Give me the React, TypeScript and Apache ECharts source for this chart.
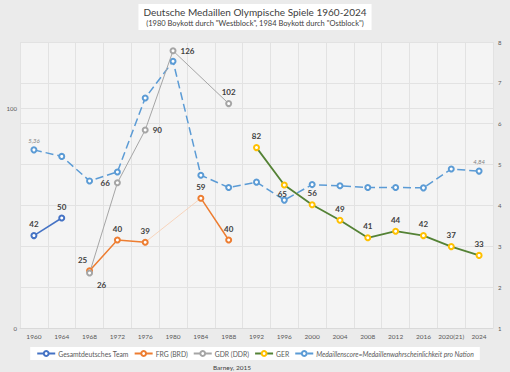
import React, { useEffect, useRef } from 'react';
import * as echarts from 'echarts';

const years = ['1960', '1964', '1968', '1972', '1976', '1980', '1984', '1988', '1992', '1996', '2000', '2004', '2008', '2012', '2016', '2020(21)', '2024'];
const gesamt = [42, 50, null, null, null, null, null, null, null, null, null, null, null, null, null, null, null];
const frg = [null, null, 26, 40, 39, null, 59, 40, null, null, null, null, null, null, null, null, null];
const frgBoycottLink = [null, null, null, null, 39, null, 59, null, null, null, null, null, null, null, null, null, null];
const gdr = [null, null, 25, 66, 90, 126, null, 102, null, null, null, null, null, null, null, null, null];
const ger = [null, null, null, null, null, null, null, null, 82, 65, 56, 49, 41, 44, 42, 37, 33];
const score = [5.36, 5.2, 4.6, 4.82, 6.63, 7.53, 4.74, 4.44, 4.57, 4.13, 4.51, 4.48, 4.44, 4.44, 4.43, 4.89, 4.84];
const scoreLabelled = ['1960', '2024'];
const seriesNames = ['Gesamtdeutsches Team', 'FRG (BRD)', 'GDR (DDR)', 'GER', 'Medaillenscore=Medaillenwahrscheinlichkeit pro Nation'];

const FONT = 'Lato, "Open Sans", sans-serif';

const labelStyle = { show: true, fontSize: 8, fontWeight: 'bold', color: '#404040', fontFamily: FONT, distance: 4 };

function build(values: (number | null)[], special: Record<number, any> = {}) {
  return values.map((v, i) => {
    if (v == null) return null;
    const item: any = { value: v };
    if (special[i]) item.label = special[i];
    return item;
  });
}

export default function App() {
  const ref = useRef<HTMLDivElement>(null);
  useEffect(() => {
    document.body.style.margin = '0';
    const chart = echarts.init(ref.current!, null, { renderer: 'svg' });
    const option: any = {
      animation: false,
      backgroundColor: '#ebebeb',
      textStyle: { fontFamily: FONT },
      title: {
        text: 'Deutsche Medaillen Olympische Spiele 1960-2024',
        subtext: '(1980 Boykott durch "Westblock", 1984 Boykott durch "Ostblock")',
        left: 'center',
        top: 4,
        backgroundColor: '#ffffff',
        padding: [3, 5, 3, 5],
        itemGap: 2,
        textStyle: { fontSize: 10, color: '#404040', fontWeight: 'normal', fontFamily: FONT },
        subtextStyle: { fontSize: 7.5, color: '#404040', fontFamily: FONT },
      },
      grid: {
        left: 20, right: 17, top: 42, bottom: 44,
        show: true, backgroundColor: '#f4f4f4', borderWidth: 0,
      },
      legend: {
        top: 347,
        left: 'center',
        backgroundColor: '#ffffff',
        padding: [3, 6, 3, 6],
        itemGap: 5,
        itemWidth: 18,
        itemHeight: 6,
        textStyle: { fontSize: 6.8, color: '#595959', fontFamily: FONT, padding: [0, 0, 0, -2] },
        data: [
          { name: seriesNames[0] },
          { name: seriesNames[1] },
          { name: seriesNames[2] },
          { name: seriesNames[3] },
          { name: seriesNames[4], textStyle: { fontStyle: 'italic', fontSize: 6.8, color: '#595959' } },
        ],
      },
      xAxis: {
        type: 'category',
        data: years,
        boundaryGap: true,
        axisTick: { show: false },
        axisLine: { lineStyle: { color: '#d9d9d9' } },
        splitLine: { show: true, lineStyle: { color: '#e2e2e2', width: 1 } },
        axisLabel: { fontSize: 6.5, color: '#595959', interval: 0, margin: 5 },
      },
      yAxis: [
        {
          type: 'value', min: 0, max: 130, interval: 100, position: 'left',
          axisLabel: { fontSize: 6, color: '#595959', showMaxLabel: false, margin: 3 },
          axisLine: { show: false }, axisTick: { show: false },
          splitLine: { show: true, lineStyle: { color: '#e2e2e2' } },
        },
        {
          type: 'value', min: 1, max: 8, interval: 1, position: 'right',
          axisLabel: { fontSize: 6, color: '#595959', margin: 5 },
          axisLine: { show: false }, axisTick: { show: false },
          splitLine: { show: true, lineStyle: { color: '#e2e2e2' } },
        },
      ],
      graphic: [
        {
          type: 'text',
          style: { x: 232, y: 367, text: 'Barney, 2015', fontSize: 6.5, fill: '#404040', align: 'center', verticalAlign: 'middle', fontFamily: FONT },
        },
      ],
      series: [
        {
          name: seriesNames[4], type: 'line', yAxisIndex: 1,
          data: score.map((v, i) => ({
            value: v,
            label: scoreLabelled.includes(years[i])
              ? { show: true, position: 'top', fontSize: 6, fontStyle: 'italic', color: '#7f7f7f', formatter: (p: any) => String(p.value.toFixed(2)).replace('.', ','), distance: 3 }
              : { show: false },
          })),
          symbol: 'emptyCircle', symbolSize: 5,
          itemStyle: { color: '#5B9BD5', borderWidth: 1 },
          lineStyle: { color: '#5B9BD5', width: 1.5, type: [8, 4] },
          z: 2,
        },
        {
          name: 'frgLink', type: 'line', yAxisIndex: 0, data: frgBoycottLink, connectNulls: true,
          symbol: 'none', silent: true,
          lineStyle: { color: '#f8cbad', width: 0.8 }, z: 1,
        },
        {
          name: seriesNames[0], type: 'line', yAxisIndex: 0, data: build(gesamt),
          symbol: 'emptyCircle', symbolSize: 5,
          itemStyle: { color: '#4472C4', borderWidth: 1 },
          lineStyle: { color: '#4472C4', width: 1.5 },
          label: { ...labelStyle, position: 'top' }, z: 3,
        },
        {
          name: seriesNames[1], type: 'line', yAxisIndex: 0,
          data: build(frg, { 2: { position: 'bottom', offset: [12, 3] } }),
          symbol: 'emptyCircle', symbolSize: 5,
          itemStyle: { color: '#ED7D31', borderWidth: 1 },
          lineStyle: { color: '#ED7D31', width: 1.5 },
          label: { ...labelStyle, position: 'top' },
          z: 3,
        },
        {
          name: seriesNames[2], type: 'line', yAxisIndex: 0, connectNulls: true,
          data: build(gdr, {
            2: { position: 'top', offset: [-7, -2] },
            3: { position: 'left' },
            4: { position: 'right' },
            5: { position: 'right' },
            7: { position: 'top' },
          }),
          symbol: 'emptyCircle', symbolSize: 5,
          itemStyle: { color: '#A5A5A5', borderWidth: 1 },
          lineStyle: { color: '#A5A5A5', width: 1 },
          label: { ...labelStyle, position: 'top' },
          z: 3,
        },
        {
          name: seriesNames[3], type: 'line', yAxisIndex: 0,
          data: build(ger, { 9: { position: 'bottom', distance: 1, offset: [-2, 0] } }),
          symbol: 'emptyCircle', symbolSize: 5,
          itemStyle: { color: '#FFC000', borderWidth: 1 },
          lineStyle: { color: '#548235', width: 1.8 },
          label: { ...labelStyle, position: 'top' }, z: 3,
        },
      ],
    };
    chart.setOption(option);
    return () => chart.dispose();
  }, []);
  return <div ref={ref} style={{ width: 510, height: 372 }} />;
}
